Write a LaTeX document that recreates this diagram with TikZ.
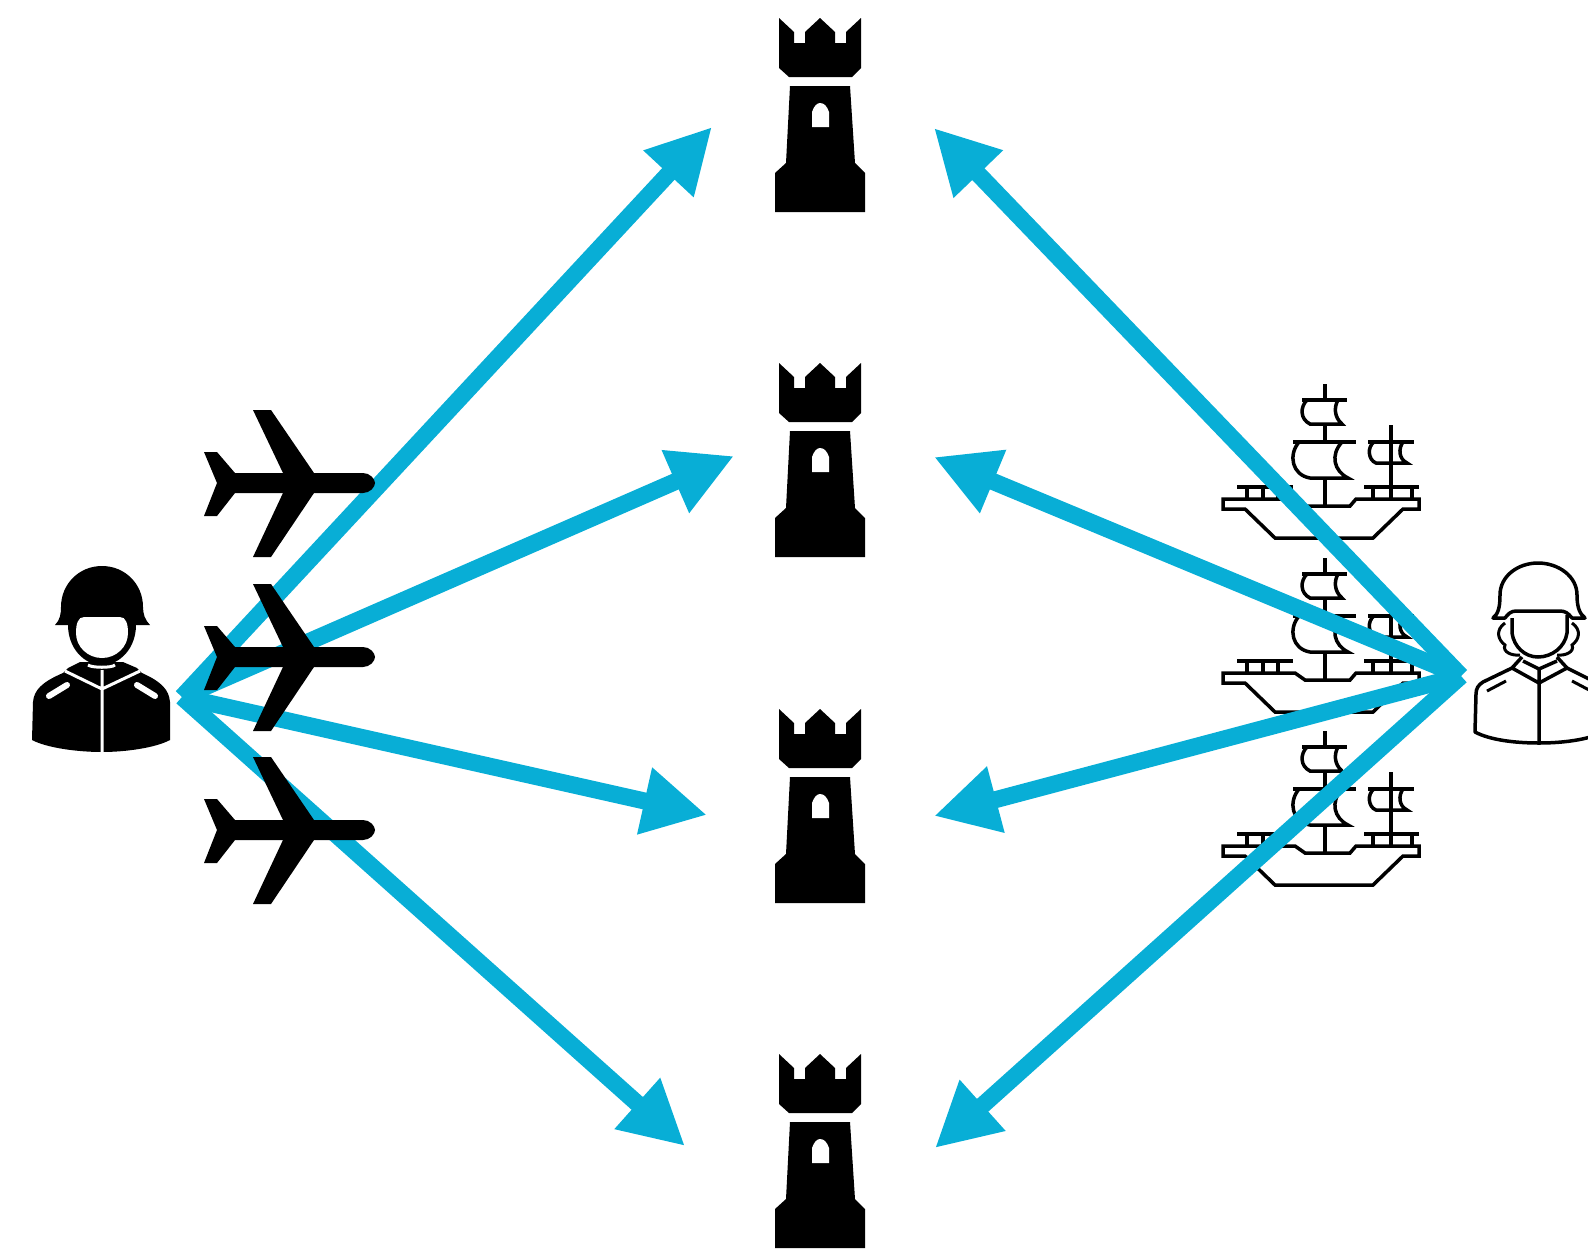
\documentclass[tikz,border=0pt]{standalone}
\usepackage{xcolor}
\usepackage{tikz}
\usetikzlibrary{arrows.meta}
\definecolor{arrowblue}{HTML}{08AED6}
\tikzset{
  arrowline/.style={draw=arrowblue,line width=17pt,-{Triangle[length=64pt,width=64pt,fill=arrowblue]}},
  tower/.pic={
    \fill[black] (-41,0) -- (-26,14) -- (-26,25) -- (-15,25) -- (-15,14) -- (0,0) -- (15,14) -- (15,25) -- (26,25) -- (26,14) -- (41,0) -- (41,50) -- (32,59) -- (-31,59) -- (-41,50) -- cycle;
    \fill[black] (-30,68) -- (30,68) -- (35,145) -- (45,155) -- (45,194) -- (-45,194) -- (-45,155) -- (-34,145) -- cycle;
    \fill[white] (-8,109) -- (-8,94) .. controls (-6,88) and (-3,85) .. (0,85) .. controls (4,85) and (7,88) .. (9,94) -- (9,109) -- cycle;
  },
  plane/.pic={
    \fill[black] (14,57) -- (27,57) -- (45,78) -- (93,78) -- (63,15) -- (81,15) -- (124,78) -- (173,78) .. controls (180,78) and (185,84) .. (185,88) .. controls (185,92) and (180,98) .. (173,98) -- (124,98) -- (81,162) -- (63,162) -- (93,98) -- (45,98) -- (27,121) -- (14,121) -- (27,88) -- cycle;
  },
  ship/.pic={
    \draw[black,line width=3.5pt] (115,9) -- (115,25) (92,25) -- (137,25) (115,49) -- (115,67) (83,67) -- (146,67) (115,103) -- (115,131);
    \draw[black,line width=3.5pt] (97,25) .. controls (90,32) and (90,44) .. (100,49) -- (132,49) .. controls (124,42) and (124,32) .. (128,25);
    \draw[black,line width=3.5pt] (89,67) .. controls (78,80) and (82,100) .. (100,103) -- (138,103) .. controls (124,96) and (120,80) .. (132,67);
    \draw[black,line width=3.5pt] (181,50) -- (181,124) (158,67) -- (204,67);
    \draw[black,line width=3.5pt] (164,67) .. controls (157,72) and (158,85) .. (166,88) -- (197,88) .. controls (189,84) and (188,74) .. (193,67);
    \draw[black,line width=3.5pt] (27,112) -- (83,112) (37,112) -- (37,124) (53,112) -- (53,124) (68,112) -- (68,124);
    \draw[black,line width=3.5pt] (154,112) -- (209,112) (163,112) -- (163,124) (202,112) -- (202,124);
    \draw[black,line width=3.5pt] (13,124) -- (85,124) -- (95,131) -- (140,131) -- (146,124) -- (209,124) -- (209,134) -- (193,134) -- (163,163) -- (65,163) -- (35,134) -- (13,134) -- cycle;
  },
  soldierblack/.pic={
    \fill[black] (55,85) .. controls (60,80) and (61,74) .. (61,67) .. controls (61,44) and (79,26) .. (102,26) .. controls (125,26) and (143,44) .. (143,67) .. controls (143,74) and (145,80) .. (150,85) -- (136,85) .. controls (136,108) and (120,125) .. (102,125) .. controls (84,125) and (68,108) .. (68,85) -- cycle;
    \fill[white] (84,77) -- (120,77) .. controls (126,77) and (128,84) .. (128,93) .. controls (128,107) and (116,118) .. (102,118) .. controls (88,118) and (76,107) .. (76,93) .. controls (76,84) and (78,77) .. (84,77) -- cycle;
    \fill[black] (32,200) -- (33,162) .. controls (34,150) and (42,142) .. (63,133) -- (68,128) -- (80,122) -- (123,122) -- (137,128) -- (142,133) .. controls (162,142) and (169,150) .. (170,162) -- (170,200) .. controls (155,208) and (125,212) .. (102,212) .. controls (78,212) and (47,208) .. (32,200) -- cycle;
    \draw[white,line width=3pt] (65,131) -- (102,149) -- (140,131) (102,130) -- (102,213) (88,125) .. controls (92,128) and (112,128) .. (115,125);
    \draw[white,line width=6pt,line cap=round] (49,156) -- (67,145) (137,145) -- (155,156);
  },
  soldierline/.pic={
    \draw[black,line width=3.5pt,line join=round] (53,78) .. controls (58,74) and (60,68) .. (60,55) .. controls (60,36) and (78,23) .. (98,23) .. controls (118,23) and (137,36) .. (137,55) .. controls (137,68) and (140,74) .. (145,78) -- (132,78) .. controls (128,73) and (125,71) .. (120,71) -- (76,71) .. controls (71,71) and (68,74) .. (65,78) -- cycle;
    \draw[black,line width=3.5pt] (72,78) -- (72,93) .. controls (74,107) and (85,117) .. (98,117) .. controls (112,117) and (125,107) .. (127,93) -- (127,75);
    \draw[black,line width=3pt] (65,83) .. controls (55,90) and (58,100) .. (65,105) .. controls (62,112) and (72,116) .. (80,115);
    \draw[black,line width=3pt] (132,83) .. controls (142,90) and (139,100) .. (132,105) .. controls (135,112) and (125,116) .. (117,115);
    \draw[black,line width=3.5pt,line join=round] (82,117) -- (72,128) -- (99,143) -- (127,128) -- (117,117) (83,121) -- (99,129) -- (117,121) (99,129) -- (99,203);
    \draw[black,line width=3.5pt,line join=round] (72,128) -- (43,142) .. controls (38,145) and (36,149) .. (36,154) -- (35,192) .. controls (50,200) and (75,203) .. (99,203) .. controls (122,203) and (148,200) .. (163,192) -- (163,154) .. controls (163,149) and (160,145) .. (155,142) -- (127,128);
    \draw[black,line width=3pt] (47,151) -- (66,141) (132,141) -- (151,151);
  }
}
\begin{document}
\begin{tikzpicture}[x=1pt,y=-1pt]
\useasboundingbox (0,0) rectangle (1588,1251);
\clip (0,0) rectangle (1588,1251);
\coordinate (s1) at (182,697);
\coordinate (s2) at (1461,676);
\coordinate (t1) at (712,127);
\coordinate (t2) at (734,456);
\coordinate (t3) at (707,815);
\coordinate (t4) at (685,1146);
\coordinate (u1) at (934,128);
\coordinate (u2) at (934,457);
\coordinate (u3) at (934,816);
\coordinate (u4) at (935,1148);
\pic (tower1) at (820,18) {tower};
\pic (tower2) at (820,363) {tower};
\pic (tower3) at (820,709) {tower};
\pic (tower4) at (820,1054) {tower};
\pic (soldier1) at (0,540) {soldierblack};
\pic (soldier2) at (1440,540) {soldierline};
\pic (ship1) at (1210,375) {ship};
\pic (ship2) at (1210,549) {ship};
\pic (ship3) at (1210,722) {ship};
\draw [arrowline] (s1) -- (t1);
\draw [arrowline] (s1) -- (t2);
\draw [arrowline] (s1) -- (t3);
\draw [arrowline] (s1) -- (t4);
\draw [arrowline] (s2) -- (u1);
\draw [arrowline] (s2) -- (u2);
\draw [arrowline] (s2) -- (u3);
\draw [arrowline] (s2) -- (u4);
\pic (plane1) at (190,395) {plane};
\pic (plane2) at (190,569) {plane};
\pic (plane3) at (190,742) {plane};
\end{tikzpicture}
\end{document}
